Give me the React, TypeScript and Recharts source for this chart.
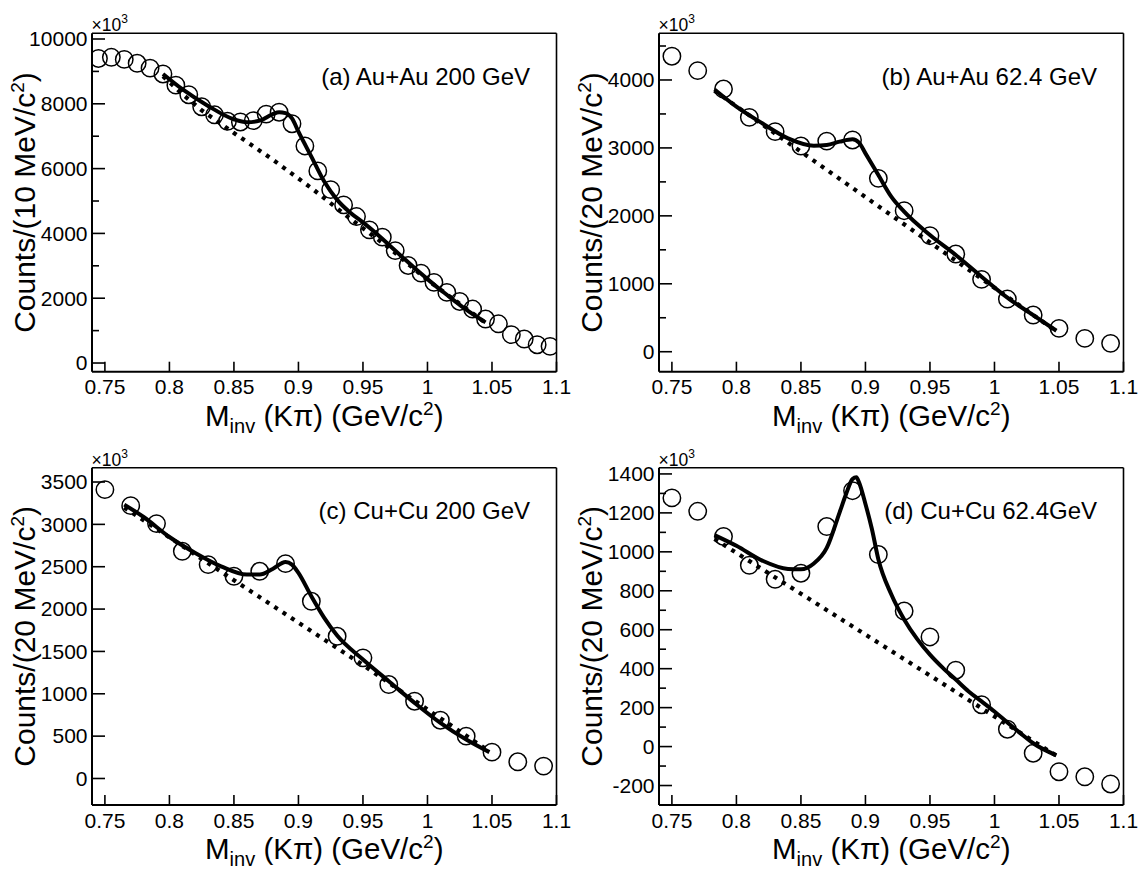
import { ComposedChart, Scatter, Line, XAxis, YAxis } from 'recharts';

const FONT = '"Liberation Sans", Arial, Helvetica, sans-serif';

const massTicks = [0.75, 0.8, 0.85, 0.9, 0.95, 1, 1.05, 1.1];

// (a) Au+Au 200 GeV, 10 MeV bins
const aMass = [0.745, 0.755, 0.765, 0.775, 0.785, 0.795, 0.805, 0.815, 0.825, 0.835, 0.845, 0.855,
    0.865, 0.875, 0.885, 0.895, 0.905, 0.915, 0.925, 0.935, 0.945, 0.955, 0.965, 0.975,
    0.985, 0.995, 1.005, 1.015, 1.025, 1.035, 1.045, 1.055, 1.065, 1.075, 1.085, 1.095];
const aCounts = [9400, 9435, 9370, 9250, 9100, 8920, 8575, 8280, 7910, 7660, 7460, 7440,
    7480, 7680, 7740, 7385, 6700, 5930, 5350, 4880, 4520, 4110, 3885, 3470,
    3010, 2775, 2490, 2180, 1900, 1665, 1357, 1210, 875, 740, 565, 514];
const aFitX = [0.795, 0.81, 0.83, 0.85, 0.86, 0.87, 0.88, 0.885, 0.89, 0.895, 0.9, 0.91, 0.92,
    0.93, 0.94, 0.95, 0.96, 0.97, 0.98, 0.99, 1.0, 1.01, 1.02, 1.03, 1.045];
const aFitY = [8920, 8450, 7935, 7520, 7430, 7480, 7680, 7740, 7710, 7550, 7140, 6370, 5600,
    5035, 4645, 4340, 4010, 3650, 3290, 2930, 2590, 2260, 1950, 1645, 1255];
const aBgX = [0.795, 0.81, 0.825, 0.85, 0.88, 0.91, 0.9374, 0.97, 1.0, 1.045];
const aBgY = [8850, 8300, 7800, 7100, 6280, 5400, 4540, 3560, 2560, 1240];

// (b) Au+Au 62.4 GeV, 20 MeV bins
const bMass = [0.75, 0.77, 0.79, 0.81, 0.83, 0.85, 0.87, 0.89, 0.91, 0.93, 0.95, 0.97, 0.99,
    1.01, 1.03, 1.05, 1.07, 1.09];
const bCounts = [4350, 4137, 3867, 3450, 3239, 3028, 3100, 3117, 2552, 2076, 1708, 1438, 1065,
    775, 540, 344, 196, 123];
const bFitX = [0.783, 0.8, 0.82, 0.84, 0.86, 0.87, 0.88, 0.89, 0.895, 0.9, 0.91, 0.92, 0.93,
    0.95, 0.97, 0.99, 1.01, 1.03, 1.048];
const bFitY = [3860, 3607, 3362, 3141, 3033, 3043, 3092, 3126, 3077, 2920, 2601, 2282, 2061,
    1718, 1423, 1104, 795, 540, 309];
const bBgX = [0.783, 0.85, 0.9, 0.95, 1.0, 1.048];
const bBgY = [3840, 2945, 2277, 1609, 941, 300];

// (c) Cu+Cu 200 GeV
const cMass = bMass;
const cCounts = [3410, 3221, 3009, 2682, 2525, 2387, 2446, 2537, 2092, 1679, 1424, 1109, 912,
    688, 500, 311, 197, 146];
const cFitX = [0.765, 0.78, 0.8, 0.82, 0.84, 0.86, 0.87, 0.88, 0.89, 0.895, 0.9, 0.91, 0.92,
    0.93, 0.95, 0.97, 0.99, 1.01, 1.03, 1.048];
const cFitY = [3233, 3087, 2851, 2663, 2505, 2407, 2407, 2474, 2556, 2525, 2427, 2151, 1896,
    1687, 1404, 1148, 893, 657, 460, 311];
const cBgX = [0.765, 0.85, 0.9, 0.95, 1.0, 1.048];
const cBgY = [3200, 2340, 1840, 1340, 815, 318];

// (d) Cu+Cu 62.4 GeV
const dMass = bMass;
const dCounts = [1277, 1208, 1079, 931, 859, 890, 1130, 1314, 986, 696, 563, 392, 215,
    89, -34, -129, -155, -192];
const dFitX = [0.783, 0.8, 0.82, 0.84, 0.85, 0.86, 0.87, 0.88, 0.885, 0.89, 0.893, 0.895, 0.9,
    0.905, 0.91, 0.92, 0.93, 0.94, 0.95, 0.96, 0.97, 0.98, 0.99, 1.0, 1.01, 1.02, 1.03, 1.048];
const dFitY = [1086, 1031, 955, 912, 910, 940, 1020, 1203, 1297, 1374, 1383, 1357, 1246,
    1117, 962, 782, 653, 553, 472, 404, 344, 283, 232, 180, 124, 69, 17, -45];
const dBgX = [0.783, 0.85, 0.9, 0.95, 1.0, 1.048];
const dBgY = [1066, 785, 575, 365, 155, -47];

const aTicks = [0, 1000, 2000, 3000, 4000, 5000, 6000, 7000, 8000, 9000, 10000];
const bTicks = [0, 500, 1000, 1500, 2000, 2500, 3000, 3500, 4000, 4500];
const cTicks = [0, 500, 1000, 1500, 2000, 2500, 3000, 3500];
const dTicks = [-200, -100, 0, 100, 200, 300, 400, 500, 600, 700, 800, 900, 1000, 1100, 1200, 1300, 1400];

const pairs = (xs: number[], ys: number[]) => xs.map((x, i) => ({ x, y: ys[i] }));

const axisStyle = { stroke: '#000', strokeWidth: 2 };
const frameStyle = { stroke: '#000', strokeWidth: 1.6 };

const XTick = ({ x, y, payload }: any) => (
    <g>
        <line x1={x} y1={y} x2={x} y2={y - 10} stroke="#000" strokeWidth={1.6} />
        <text x={x} y={y + 22.5} textAnchor="middle" fontSize={21} fontFamily={FONT} fill="#000">
            {String(payload.value)}
        </text>
    </g>
);

const YTick = ({ x, y, payload, major }: any) => {
    const isMajor = payload.value % major === 0;
    return (
        <g>
            <line x1={x} y1={y} x2={x + (isMajor ? 13 : 7)} y2={y} stroke="#000" strokeWidth={1.6} />
            {isMajor && (
                <text x={x - 4.5} y={y + 7.3} textAnchor="end" fontSize={21} fontFamily={FONT} fill="#000">
                    {String(payload.value)}
                </text>
            )}
        </g>
    );
};

const XTitle = ({ viewBox }: any) => {
    if (!viewBox) return null;
    const cx = viewBox.x + viewBox.width / 2;
    const by = viewBox.y + 54;
    return (
        <text x={cx} y={by} textAnchor="middle" fontSize={29.5} fontFamily={FONT} fill="#000">
            M<tspan fontSize={20} dy={7}>inv</tspan>
            <tspan dy={-7}> (Kπ) (GeV/c</tspan>
            <tspan fontSize={19} dy={-11}>2</tspan>
            <tspan dy={11}>)</tspan>
        </text>
    );
};

const YTitle = ({ viewBox, bin }: any) => {
    if (!viewBox) return null;
    const cx = viewBox.x + viewBox.width - 57;
    const cy = viewBox.y + viewBox.height / 2;
    return (
        <text x={cx} y={cy} transform={`rotate(-90 ${cx} ${cy})`} textAnchor="middle" fontSize={30}
            fontFamily={FONT} fill="#000">
            Counts/({bin} MeV/c<tspan fontSize={19} dy={-11}>2</tspan>
            <tspan dy={11}>)</tspan>
        </text>
    );
};

const Mult = ({ viewBox }: any) => {
    if (!viewBox) return null;
    return (
        <text x={viewBox.x - 0.5} y={viewBox.y + viewBox.height - 2} fontSize={17.5} fontFamily={FONT} fill="#000">
            ×10<tspan fontSize={12} dy={-8}>3</tspan>
        </text>
    );
};

const PanelTitle = ({ viewBox, text }: any) => {
    if (!viewBox) return null;
    return (
        <text x={viewBox.x - 26.5} y={viewBox.y + 51.7} textAnchor="end" fontSize={24} fontFamily={FONT} fill="#000">
            {text}
        </text>
    );
};

const renderCircle = (p: any) => (
    <circle cx={p.cx} cy={p.cy} r={8.7} fill="none" stroke="#000" strokeWidth={1.5} />
);

interface PanelProps {
    box: number[];
    frame: number[];
    yDomain: number[];
    yTicks: number[];
    yMajor: number;
    points: { x: number; y: number }[];
    fit: { x: number; y: number }[];
    bg: { x: number; y: number }[];
    title: string;
    bin: number;
}

function Panel({ box, frame, yDomain, yTicks, yMajor, points, fit, bg, title, bin }: PanelProps) {
    const [L, T, W, H] = box;
    const [x0, y0, x1, y1] = frame;
    const YW = 70, TOPH = 10, RW = 10;
    const XH = T + H - y1;
    const margin = {
        left: x0 - L - YW,
        top: y0 - T - TOPH,
        right: L + W - x1 - RW,
        bottom: 0,
    };
    return (
        <div style={{ position: 'absolute', left: L, top: T, width: W, height: H }}>
            <ComposedChart width={W} height={H} margin={margin}>
                <XAxis xAxisId="b" dataKey="x" type="number" domain={[0.74, 1.1]} allowDataOverflow
                    ticks={massTicks} interval={0} tickSize={0} tickMargin={0} tickLine={false}
                    tick={(p: any) => <XTick {...p} />} axisLine={axisStyle} height={XH}
                    label={<XTitle />} />
                <XAxis xAxisId="t" orientation="top" dataKey="x" type="number" domain={[0.74, 1.1]}
                    allowDataOverflow tick={false} tickLine={false} axisLine={frameStyle} height={TOPH}
                    label={<Mult />} />
                <YAxis yAxisId="l" dataKey="y" type="number" domain={yDomain} allowDataOverflow
                    ticks={yTicks} interval={0} tickSize={0} tickMargin={0} tickLine={false}
                    tick={(p: any) => <YTick {...p} major={yMajor} />} axisLine={axisStyle} width={YW}
                    label={<YTitle bin={bin} />} />
                <YAxis yAxisId="r" orientation="right" type="number" domain={yDomain} allowDataOverflow
                    tick={false} tickLine={false} axisLine={frameStyle} width={RW}
                    label={<PanelTitle text={title} />} />
                <Scatter xAxisId="b" yAxisId="l" data={points} dataKey="y" shape={renderCircle}
                    isAnimationActive={false} />
                <Line xAxisId="b" yAxisId="l" data={bg} dataKey="y" type="linear" stroke="#000"
                    strokeWidth={4.2} strokeDasharray="4 6" dot={false} activeDot={false}
                    isAnimationActive={false} />
                <Line xAxisId="b" yAxisId="l" data={fit} dataKey="y" type="monotone" stroke="#000"
                    strokeWidth={4} dot={false} activeDot={false} isAnimationActive={false} />
            </ComposedChart>
        </div>
    );
}

export default function App() {
    return (
        <div style={{ position: 'absolute', left: 0, top: 0, width: 1143, height: 871, background: '#fff' }}>
            <Panel box={[0, 0, 571, 445]} frame={[92, 33.3, 556.5, 371.7]} yDomain={[-268, 10176]}
                yTicks={aTicks} yMajor={2000} points={pairs(aMass, aCounts)} fit={pairs(aFitX, aFitY)}
                bg={pairs(aBgX, aBgY)} title="(a) Au+Au 200 GeV" bin={10} />
            <Panel box={[571, 0, 572, 445]} frame={[659, 33.3, 1123.5, 371.7]} yDomain={[-294, 4687]}
                yTicks={bTicks} yMajor={1000} points={pairs(bMass, bCounts)} fit={pairs(bFitX, bFitY)}
                bg={pairs(bBgX, bBgY)} title="(b) Au+Au 62.4 GeV" bin={20} />
            <Panel box={[0, 436, 571, 435]} frame={[92, 467.7, 556.5, 805]} yDomain={[-313, 3669]}
                yTicks={cTicks} yMajor={500} points={pairs(cMass, cCounts)} fit={pairs(cFitX, cFitY)}
                bg={pairs(cBgX, cBgY)} title="(c) Cu+Cu 200 GeV" bin={20} />
            <Panel box={[571, 436, 572, 435]} frame={[659, 467.7, 1123.5, 805]} yDomain={[-300, 1432]}
                yTicks={dTicks} yMajor={200} points={pairs(dMass, dCounts)} fit={pairs(dFitX, dFitY)}
                bg={pairs(dBgX, dBgY)} title="(d) Cu+Cu 62.4GeV" bin={20} />
        </div>
    );
}
